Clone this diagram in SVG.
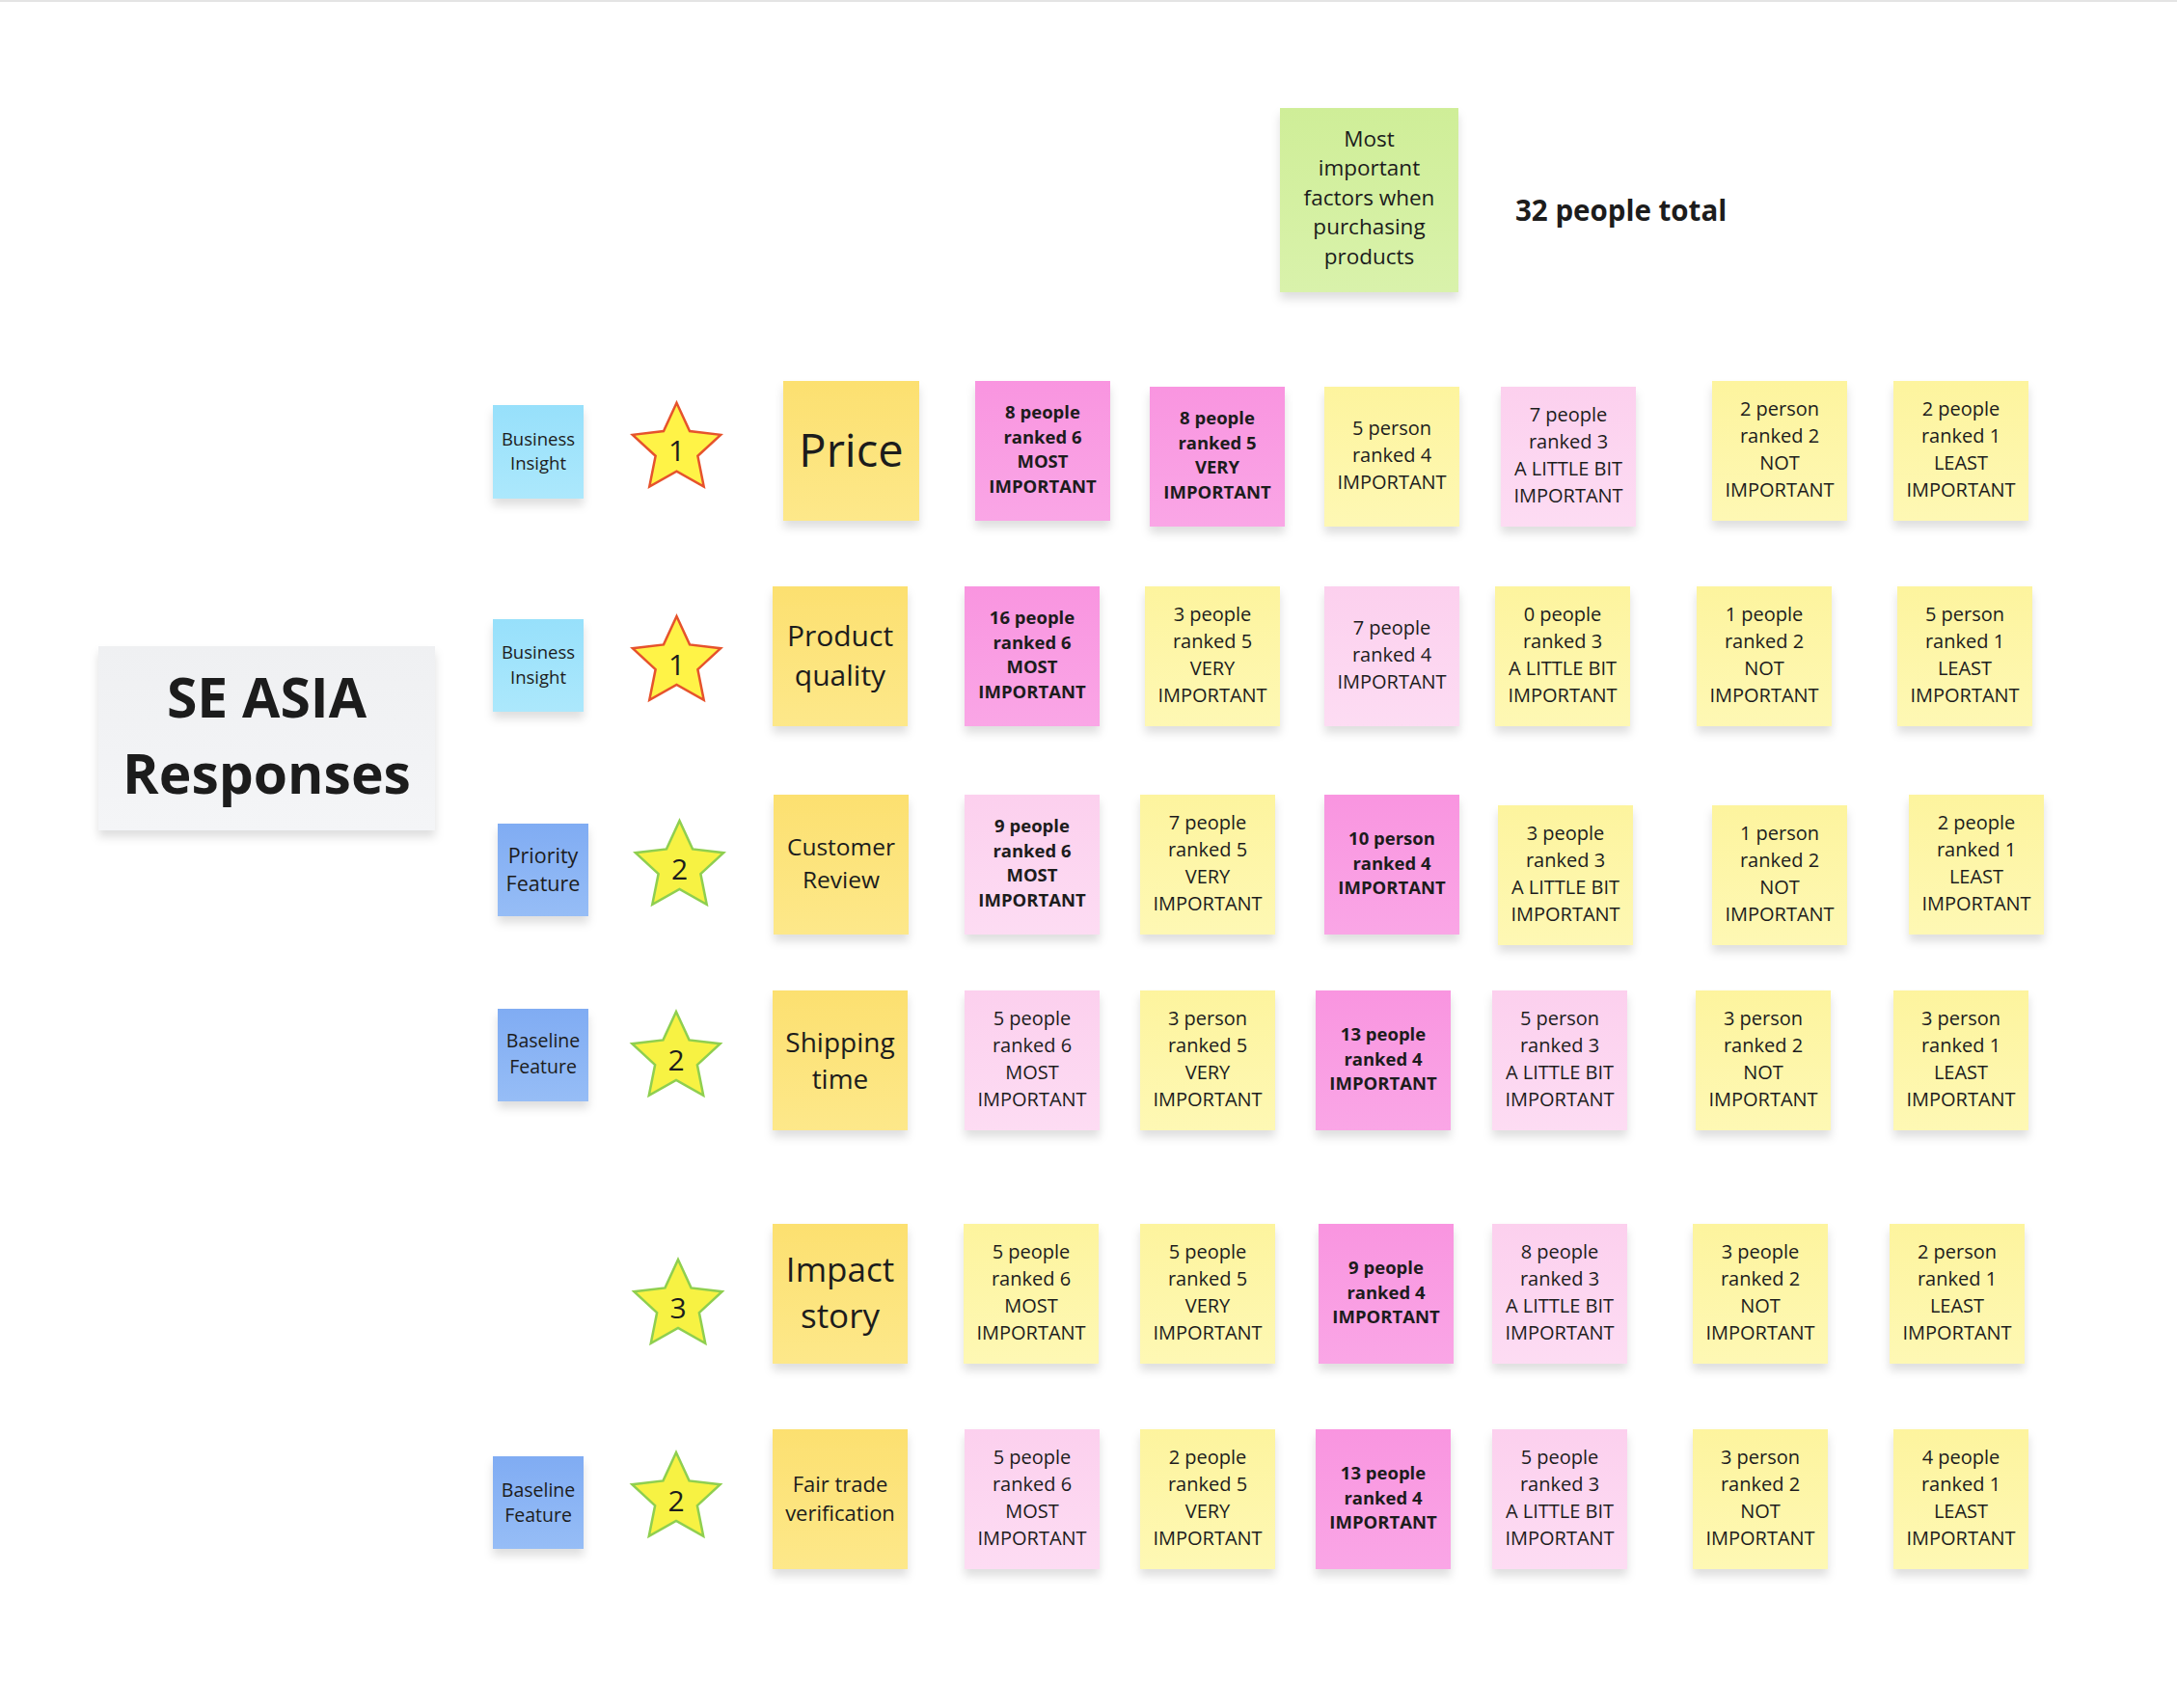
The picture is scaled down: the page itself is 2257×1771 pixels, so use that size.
<svg xmlns="http://www.w3.org/2000/svg" xmlns:xlink="http://www.w3.org/1999/xlink" width="2257" height="1771" viewBox="0 0 2257 1771">
<defs>
<linearGradient id="gO" x1="0" y1="0" x2="0" y2="1"><stop offset="0" stop-color="#fce070"/><stop offset="1" stop-color="#fde88a"/></linearGradient>
<linearGradient id="gH" x1="0" y1="0" x2="0" y2="1"><stop offset="0" stop-color="#f995e0"/><stop offset="1" stop-color="#faa6e6"/></linearGradient>
<linearGradient id="gP" x1="0" y1="0" x2="0" y2="1"><stop offset="0" stop-color="#fcd0ee"/><stop offset="1" stop-color="#fddcf3"/></linearGradient>
<linearGradient id="gY" x1="0" y1="0" x2="0" y2="1"><stop offset="0" stop-color="#fdf49e"/><stop offset="1" stop-color="#fef8b4"/></linearGradient>
<linearGradient id="gC" x1="0" y1="0" x2="0" y2="1"><stop offset="0" stop-color="#97e0fb"/><stop offset="1" stop-color="#ace8fc"/></linearGradient>
<linearGradient id="gB" x1="0" y1="0" x2="0" y2="1"><stop offset="0" stop-color="#80acf3"/><stop offset="1" stop-color="#96bdf6"/></linearGradient>
<linearGradient id="gG" x1="0" y1="0" x2="0" y2="1"><stop offset="0" stop-color="#cfee98"/><stop offset="1" stop-color="#d9f2ab"/></linearGradient>
<linearGradient id="gT" x1="0" y1="0" x2="0" y2="1"><stop offset="0" stop-color="#eff0f2"/><stop offset="1" stop-color="#f4f5f7"/></linearGradient>
<filter id="sh" x="-20%" y="-20%" width="140%" height="150%"><feDropShadow dx="0" dy="7" stdDeviation="5" flood-color="#000" flood-opacity="0.13"/></filter>
<polygon id="star" points="0,-48 13.52,-18.61 45.65,-14.83 21.87,7.11 28.21,38.83 0,23 -28.21,38.83 -21.87,7.11 -45.65,-14.83 -13.52,-18.61"/>
</defs>
<style>
.note{filter:url(#sh)}
.fo{fill:url(#gO)} .fh{fill:url(#gH)} .fp{fill:url(#gP)} .fy{fill:url(#gY)} .fc{fill:url(#gC)} .fb{fill:url(#gB)} .fg{fill:url(#gG)} .ft{fill:url(#gT)}
text{font-family:"Open Sans","Liberation Sans",sans-serif;fill:#1c1c1c;text-anchor:middle}
.r{font-size:20px}
.b{font-size:18.5px;font-weight:700}
.sr{fill:#fff347;stroke:#e6532c;stroke-width:2.5;stroke-linejoin:miter}
.sg{fill:#f7f243;stroke:#8fcf4f;stroke-width:2.5;stroke-linejoin:miter}
.sn{font-size:30px}
</style>
<rect x="0" y="0" width="2257" height="1771" fill="#ffffff"/>
<rect x="0" y="0" width="2257" height="2" fill="#e4e4e4"/>

<g id="title"><rect class="note ft" x="102" y="670" width="349" height="191"/><text x="276.5" y="744" style="font-size:57px;font-weight:700">SE ASIA</text><text x="276.5" y="823" style="font-size:57px;font-weight:700">Responses</text></g>

<g id="header"><rect class="note fg" x="1327" y="112" width="185" height="191"/><text style="font-size:22.5px" y="151.5"><tspan x="1419.5">Most</tspan><tspan x="1419.5" dy="30.5">important</tspan><tspan x="1419.5" dy="30.5">factors when</tspan><tspan x="1419.5" dy="30.5">purchasing</tspan><tspan x="1419.5" dy="30.5">products</tspan></text></g>
<g id="total"><text x="1571" y="229" style="font-size:29.5px;font-weight:700;text-anchor:start">32 people total</text></g>

<!-- Row 1 -->
<g id="r1-label"><rect class="note fc" x="511" y="420" width="94" height="97"/><text style="font-size:18.5px" y="461.5"><tspan x="558">Business</tspan><tspan x="558" dy="25.5">Insight</tspan></text></g>
<g id="r1-star"><use xlink:href="#star" class="sr" transform="translate(701.5 465.7)"/><text class="sn" x="701.5" y="478.3">1</text></g>
<g id="r1-factor"><rect class="note fo" x="812" y="395" width="141" height="145"/><text x="882.5" y="484" style="font-size:47px">Price</text></g>
<g id="r1-c1"><rect class="note fh" x="1011" y="395" width="140" height="145"/><text class="b" y="434.4"><tspan x="1081">8 people</tspan><tspan x="1081" dy="25.5">ranked 6</tspan><tspan x="1081" dy="25.5">MOST</tspan><tspan x="1081" dy="25.5">IMPORTANT</tspan></text></g>
<g id="r1-c2"><rect class="note fh" x="1192" y="401" width="140" height="145"/><text class="b" y="440.4"><tspan x="1262">8 people</tspan><tspan x="1262" dy="25.5">ranked 5</tspan><tspan x="1262" dy="25.5">VERY</tspan><tspan x="1262" dy="25.5">IMPORTANT</tspan></text></g>
<g id="r1-c3"><rect class="note fy" x="1373" y="401" width="140" height="145"/><text class="r" y="451.2"><tspan x="1443">5 person</tspan><tspan x="1443" dy="28">ranked 4</tspan><tspan x="1443" dy="28">IMPORTANT</tspan></text></g>
<g id="r1-c4"><rect class="note fp" x="1556" y="401" width="140" height="145"/><text class="r" y="437.2"><tspan x="1626">7 people</tspan><tspan x="1626" dy="28">ranked 3</tspan><tspan x="1626" dy="28">A LITTLE BIT</tspan><tspan x="1626" dy="28">IMPORTANT</tspan></text></g>
<g id="r1-c5"><rect class="note fy" x="1775" y="395" width="140" height="145"/><text class="r" y="431.2"><tspan x="1845">2 person</tspan><tspan x="1845" dy="28">ranked 2</tspan><tspan x="1845" dy="28">NOT</tspan><tspan x="1845" dy="28">IMPORTANT</tspan></text></g>
<g id="r1-c6"><rect class="note fy" x="1963" y="395" width="140" height="145"/><text class="r" y="431.2"><tspan x="2033">2 people</tspan><tspan x="2033" dy="28">ranked 1</tspan><tspan x="2033" dy="28">LEAST</tspan><tspan x="2033" dy="28">IMPORTANT</tspan></text></g>

<!-- Row 2 -->
<g id="r2-label"><rect class="note fc" x="511" y="642" width="94" height="96"/><text style="font-size:18.5px" y="683.3"><tspan x="558">Business</tspan><tspan x="558" dy="25.5">Insight</tspan></text></g>
<g id="r2-star"><use xlink:href="#star" class="sr" transform="translate(701.5 687)"/><text class="sn" x="701.5" y="700">1</text></g>
<g id="r2-factor"><rect class="note fo" x="801" y="608" width="140" height="145"/><text style="font-size:30px" y="670"><tspan x="871">Product</tspan><tspan x="871" dy="41">quality</tspan></text></g>
<g id="r2-c1"><rect class="note fh" x="1000" y="608" width="140" height="145"/><text class="b" y="647.4"><tspan x="1070">16 people</tspan><tspan x="1070" dy="25.5">ranked 6</tspan><tspan x="1070" dy="25.5">MOST</tspan><tspan x="1070" dy="25.5">IMPORTANT</tspan></text></g>
<g id="r2-c2"><rect class="note fy" x="1187" y="608" width="140" height="145"/><text class="r" y="644.2"><tspan x="1257">3 people</tspan><tspan x="1257" dy="28">ranked 5</tspan><tspan x="1257" dy="28">VERY</tspan><tspan x="1257" dy="28">IMPORTANT</tspan></text></g>
<g id="r2-c3"><rect class="note fp" x="1373" y="608" width="140" height="145"/><text class="r" y="658.2"><tspan x="1443">7 people</tspan><tspan x="1443" dy="28">ranked 4</tspan><tspan x="1443" dy="28">IMPORTANT</tspan></text></g>
<g id="r2-c4"><rect class="note fy" x="1550" y="608" width="140" height="145"/><text class="r" y="644.2"><tspan x="1620">0 people</tspan><tspan x="1620" dy="28">ranked 3</tspan><tspan x="1620" dy="28">A LITTLE BIT</tspan><tspan x="1620" dy="28">IMPORTANT</tspan></text></g>
<g id="r2-c5"><rect class="note fy" x="1759" y="608" width="140" height="145"/><text class="r" y="644.2"><tspan x="1829">1 people</tspan><tspan x="1829" dy="28">ranked 2</tspan><tspan x="1829" dy="28">NOT</tspan><tspan x="1829" dy="28">IMPORTANT</tspan></text></g>
<g id="r2-c6"><rect class="note fy" x="1967" y="608" width="140" height="145"/><text class="r" y="644.2"><tspan x="2037">5 person</tspan><tspan x="2037" dy="28">ranked 1</tspan><tspan x="2037" dy="28">LEAST</tspan><tspan x="2037" dy="28">IMPORTANT</tspan></text></g>

<!-- Row 3 -->
<g id="r3-label"><rect class="note fb" x="516" y="854" width="94" height="96"/><text style="font-size:21.5px" y="894.7"><tspan x="563">Priority</tspan><tspan x="563" dy="29">Feature</tspan></text></g>
<g id="r3-star"><use xlink:href="#star" class="sg" transform="translate(704.5 899)"/><text class="sn" x="704.5" y="912">2</text></g>
<g id="r3-factor"><rect class="note fo" x="802" y="824" width="140" height="145"/><text style="font-size:24.5px" y="886.5"><tspan x="872">Customer</tspan><tspan x="872" dy="34.5">Review</tspan></text></g>
<g id="r3-c1"><rect class="note fp" x="1000" y="824" width="140" height="145"/><text class="b" y="863.4"><tspan x="1070">9 people</tspan><tspan x="1070" dy="25.5">ranked 6</tspan><tspan x="1070" dy="25.5">MOST</tspan><tspan x="1070" dy="25.5">IMPORTANT</tspan></text></g>
<g id="r3-c2"><rect class="note fy" x="1182" y="824" width="140" height="145"/><text class="r" y="860.2"><tspan x="1252">7 people</tspan><tspan x="1252" dy="28">ranked 5</tspan><tspan x="1252" dy="28">VERY</tspan><tspan x="1252" dy="28">IMPORTANT</tspan></text></g>
<g id="r3-c3"><rect class="note fh" x="1373" y="824" width="140" height="145"/><text class="b" y="876.2"><tspan x="1443">10 person</tspan><tspan x="1443" dy="25.5">ranked 4</tspan><tspan x="1443" dy="25.5">IMPORTANT</tspan></text></g>
<g id="r3-c4"><rect class="note fy" x="1553" y="835" width="140" height="145"/><text class="r" y="871.2"><tspan x="1623">3 people</tspan><tspan x="1623" dy="28">ranked 3</tspan><tspan x="1623" dy="28">A LITTLE BIT</tspan><tspan x="1623" dy="28">IMPORTANT</tspan></text></g>
<g id="r3-c5"><rect class="note fy" x="1775" y="835" width="140" height="145"/><text class="r" y="871.2"><tspan x="1845">1 person</tspan><tspan x="1845" dy="28">ranked 2</tspan><tspan x="1845" dy="28">NOT</tspan><tspan x="1845" dy="28">IMPORTANT</tspan></text></g>
<g id="r3-c6"><rect class="note fy" x="1979" y="824" width="140" height="145"/><text class="r" y="860.2"><tspan x="2049">2 people</tspan><tspan x="2049" dy="28">ranked 1</tspan><tspan x="2049" dy="28">LEAST</tspan><tspan x="2049" dy="28">IMPORTANT</tspan></text></g>

<!-- Row 4 -->
<g id="r4-label"><rect class="note fb" x="516" y="1046" width="94" height="96"/><text style="font-size:19.5px" y="1086"><tspan x="563">Baseline</tspan><tspan x="563" dy="27">Feature</tspan></text></g>
<g id="r4-star"><use xlink:href="#star" class="sg" transform="translate(701 1097)"/><text class="sn" x="701" y="1110">2</text></g>
<g id="r4-factor"><rect class="note fo" x="801" y="1027" width="140" height="145"/><text style="font-size:28px" y="1090.5"><tspan x="871">Shipping</tspan><tspan x="871" dy="38">time</tspan></text></g>
<g id="r4-c1"><rect class="note fp" x="1000" y="1027" width="140" height="145"/><text class="r" y="1063.2"><tspan x="1070">5 people</tspan><tspan x="1070" dy="28">ranked 6</tspan><tspan x="1070" dy="28">MOST</tspan><tspan x="1070" dy="28">IMPORTANT</tspan></text></g>
<g id="r4-c2"><rect class="note fy" x="1182" y="1027" width="140" height="145"/><text class="r" y="1063.2"><tspan x="1252">3 person</tspan><tspan x="1252" dy="28">ranked 5</tspan><tspan x="1252" dy="28">VERY</tspan><tspan x="1252" dy="28">IMPORTANT</tspan></text></g>
<g id="r4-c3"><rect class="note fh" x="1364" y="1027" width="140" height="145"/><text class="b" y="1079.2"><tspan x="1434">13 people</tspan><tspan x="1434" dy="25.5">ranked 4</tspan><tspan x="1434" dy="25.5">IMPORTANT</tspan></text></g>
<g id="r4-c4"><rect class="note fp" x="1547" y="1027" width="140" height="145"/><text class="r" y="1063.2"><tspan x="1617">5 person</tspan><tspan x="1617" dy="28">ranked 3</tspan><tspan x="1617" dy="28">A LITTLE BIT</tspan><tspan x="1617" dy="28">IMPORTANT</tspan></text></g>
<g id="r4-c5"><rect class="note fy" x="1758" y="1027" width="140" height="145"/><text class="r" y="1063.2"><tspan x="1828">3 person</tspan><tspan x="1828" dy="28">ranked 2</tspan><tspan x="1828" dy="28">NOT</tspan><tspan x="1828" dy="28">IMPORTANT</tspan></text></g>
<g id="r4-c6"><rect class="note fy" x="1963" y="1027" width="140" height="145"/><text class="r" y="1063.2"><tspan x="2033">3 person</tspan><tspan x="2033" dy="28">ranked 1</tspan><tspan x="2033" dy="28">LEAST</tspan><tspan x="2033" dy="28">IMPORTANT</tspan></text></g>

<!-- Row 5 -->
<g id="r5-star"><use xlink:href="#star" class="sg" transform="translate(703 1354)"/><text class="sn" x="703" y="1367">3</text></g>
<g id="r5-factor"><rect class="note fo" x="801" y="1269" width="140" height="145"/><text style="font-size:35px" y="1329"><tspan x="871">Impact</tspan><tspan x="871" dy="48">story</tspan></text></g>
<g id="r5-c1"><rect class="note fy" x="999" y="1269" width="140" height="145"/><text class="r" y="1305.2"><tspan x="1069">5 people</tspan><tspan x="1069" dy="28">ranked 6</tspan><tspan x="1069" dy="28">MOST</tspan><tspan x="1069" dy="28">IMPORTANT</tspan></text></g>
<g id="r5-c2"><rect class="note fy" x="1182" y="1269" width="140" height="145"/><text class="r" y="1305.2"><tspan x="1252">5 people</tspan><tspan x="1252" dy="28">ranked 5</tspan><tspan x="1252" dy="28">VERY</tspan><tspan x="1252" dy="28">IMPORTANT</tspan></text></g>
<g id="r5-c3"><rect class="note fh" x="1367" y="1269" width="140" height="145"/><text class="b" y="1321.2"><tspan x="1437">9 people</tspan><tspan x="1437" dy="25.5">ranked 4</tspan><tspan x="1437" dy="25.5">IMPORTANT</tspan></text></g>
<g id="r5-c4"><rect class="note fp" x="1547" y="1269" width="140" height="145"/><text class="r" y="1305.2"><tspan x="1617">8 people</tspan><tspan x="1617" dy="28">ranked 3</tspan><tspan x="1617" dy="28">A LITTLE BIT</tspan><tspan x="1617" dy="28">IMPORTANT</tspan></text></g>
<g id="r5-c5"><rect class="note fy" x="1755" y="1269" width="140" height="145"/><text class="r" y="1305.2"><tspan x="1825">3 people</tspan><tspan x="1825" dy="28">ranked 2</tspan><tspan x="1825" dy="28">NOT</tspan><tspan x="1825" dy="28">IMPORTANT</tspan></text></g>
<g id="r5-c6"><rect class="note fy" x="1959" y="1269" width="140" height="145"/><text class="r" y="1305.2"><tspan x="2029">2 person</tspan><tspan x="2029" dy="28">ranked 1</tspan><tspan x="2029" dy="28">LEAST</tspan><tspan x="2029" dy="28">IMPORTANT</tspan></text></g>

<!-- Row 6 -->
<g id="r6-label"><rect class="note fb" x="511" y="1510" width="94" height="96"/><text style="font-size:19.5px" y="1551.6"><tspan x="558">Baseline</tspan><tspan x="558" dy="26">Feature</tspan></text></g>
<g id="r6-star"><use xlink:href="#star" class="sg" transform="translate(701 1554)"/><text class="sn" x="701" y="1567">2</text></g>
<g id="r6-factor"><rect class="note fo" x="801" y="1482" width="140" height="145"/><text style="font-size:22px" y="1546.5"><tspan x="871">Fair trade</tspan><tspan x="871" dy="30">verification</tspan></text></g>
<g id="r6-c1"><rect class="note fp" x="1000" y="1482" width="140" height="145"/><text class="r" y="1518.2"><tspan x="1070">5 people</tspan><tspan x="1070" dy="28">ranked 6</tspan><tspan x="1070" dy="28">MOST</tspan><tspan x="1070" dy="28">IMPORTANT</tspan></text></g>
<g id="r6-c2"><rect class="note fy" x="1182" y="1482" width="140" height="145"/><text class="r" y="1518.2"><tspan x="1252">2 people</tspan><tspan x="1252" dy="28">ranked 5</tspan><tspan x="1252" dy="28">VERY</tspan><tspan x="1252" dy="28">IMPORTANT</tspan></text></g>
<g id="r6-c3"><rect class="note fh" x="1364" y="1482" width="140" height="145"/><text class="b" y="1534.2"><tspan x="1434">13 people</tspan><tspan x="1434" dy="25.5">ranked 4</tspan><tspan x="1434" dy="25.5">IMPORTANT</tspan></text></g>
<g id="r6-c4"><rect class="note fp" x="1547" y="1482" width="140" height="145"/><text class="r" y="1518.2"><tspan x="1617">5 people</tspan><tspan x="1617" dy="28">ranked 3</tspan><tspan x="1617" dy="28">A LITTLE BIT</tspan><tspan x="1617" dy="28">IMPORTANT</tspan></text></g>
<g id="r6-c5"><rect class="note fy" x="1755" y="1482" width="140" height="145"/><text class="r" y="1518.2"><tspan x="1825">3 person</tspan><tspan x="1825" dy="28">ranked 2</tspan><tspan x="1825" dy="28">NOT</tspan><tspan x="1825" dy="28">IMPORTANT</tspan></text></g>
<g id="r6-c6"><rect class="note fy" x="1963" y="1482" width="140" height="145"/><text class="r" y="1518.2"><tspan x="2033">4 people</tspan><tspan x="2033" dy="28">ranked 1</tspan><tspan x="2033" dy="28">LEAST</tspan><tspan x="2033" dy="28">IMPORTANT</tspan></text></g>

<g id="connectors"></g>
</svg>
